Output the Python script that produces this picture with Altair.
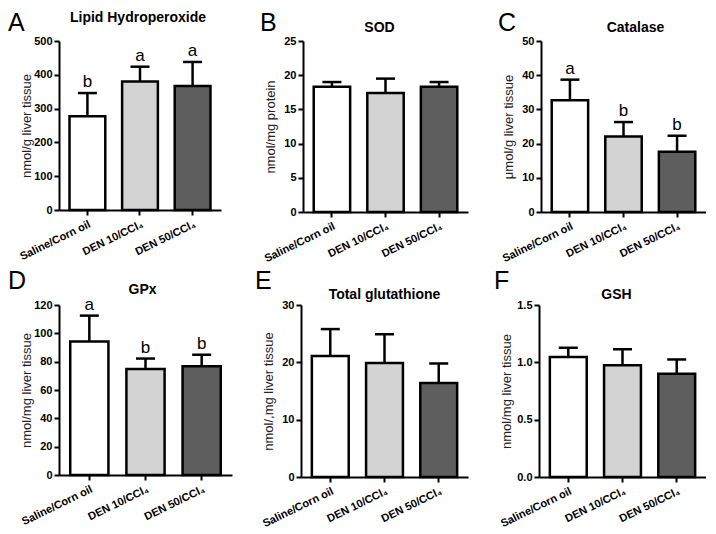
import altair as alt
import pandas as pd

groups = ["Saline/Corn oil", "DEN 10/CCl\u2084", "DEN 50/CCl\u2084"]
fills = ["#ffffff", "#d3d3d3", "#5e5e5e"]

# A Lipid hydroperoxide
lipid_mean = [277, 380, 367]
lipid_sd = [69, 44, 71]
lipid_sig = ["b", "a", "a"]
# B SOD
sod_mean = [18.3, 17.4, 18.3]
sod_sd = [0.7, 2.1, 0.7]
sod_sig = ["", "", ""]
# C Catalase
cat_mean = [32.7, 22.1, 17.6]
cat_sd = [6.0, 4.2, 4.7]
cat_sig = ["a", "b", "b"]
# D GPx
gpx_mean = [94.2, 74.8, 76.8]
gpx_sd = [18.3, 7.4, 8.1]
gpx_sig = ["a", "b", "b"]
# E Total glutathione
tg_mean = [21.1, 19.9, 16.4]
tg_sd = [4.7, 5.0, 3.4]
tg_sig = ["", "", ""]
# F GSH
gsh_mean = [1.047, 0.974, 0.900]
gsh_sd = [0.080, 0.140, 0.125]
gsh_sig = ["", "", ""]

FONT = "Liberation Sans"


def panel(letter, title, means, sds, sig, ymax, yticks, ytitle, fmt,
          width, height, letter_x, letter_y, title_y, title_dx):
    df = pd.DataFrame({"group": groups, "mean": means, "sd": sds, "sig": sig})
    base = alt.Chart(df).transform_calculate(top="datum.mean + datum.sd").encode(
        x=alt.X(
            "group:N",
            sort=groups,
            scale=alt.Scale(domain=groups, paddingInner=0.32, paddingOuter=0.2),
            axis=alt.Axis(
                title=None,
                labelAngle=-26,
                labelFontSize=11,
                labelFontWeight="bold",
                labelPadding=3,
                labelFont=FONT,
            ),
        )
    )
    yscale = alt.Scale(domain=[0, ymax], nice=False, zero=True)
    yaxis = alt.Axis(
        values=yticks,
        tickCount=len(yticks),
        format=fmt,
        title=ytitle,
        titleFontSize=13,
        titleFontWeight="normal",
        titleFont=FONT,
        titleX=-26,
        labelFontSize=11,
        labelFontWeight="bold",
        labelFont=FONT,
        labelPadding=2,
        labelOverlap=False,
    )
    bars = base.mark_bar(stroke="black", strokeWidth=2.5).encode(
        y=alt.Y("mean:Q", scale=yscale, axis=yaxis),
        fill=alt.Fill("group:N", scale=alt.Scale(domain=groups, range=fills), legend=None),
    )
    rule = base.mark_rule(strokeWidth=2.5, color="black").encode(
        y=alt.Y("mean:Q", scale=yscale, axis=yaxis), y2="top:Q"
    )
    cap = base.mark_tick(size=19, thickness=2.5, color="black", opacity=1).encode(
        y=alt.Y("top:Q", scale=yscale, axis=yaxis)
    )
    layers = [bars, rule, cap]
    if any(s for s in sig):
        txt = base.mark_text(fontSize=17, baseline="bottom", dy=-2, font=FONT, color="black").encode(
            y=alt.Y("top:Q", scale=yscale, axis=yaxis), text="sig:N"
        )
        layers.append(txt)
    lab_df = pd.DataFrame({"letter": [letter], "title": [title]})
    lab = alt.Chart(lab_df).mark_text(
        fontSize=25, align="left", baseline="top", font=FONT, color="black"
    ).encode(x=alt.value(letter_x), y=alt.value(letter_y), text="letter:N")
    ttl = alt.Chart(lab_df).mark_text(
        fontSize=14, fontWeight="bold", align="center", baseline="alphabetic",
        font=FONT, color="black"
    ).encode(x=alt.value(width / 2 + title_dx), y=alt.value(title_y), text="title:N")
    layers += [lab, ttl]
    return alt.layer(*layers).properties(width=width, height=height)


pA = panel("A", "Lipid Hydroperoxide", lipid_mean, lipid_sd, lipid_sig, 500,
           [0, 100, 200, 300, 400, 500], "nmol/g  liver tissue", "d",
           162, 169, -51, -30, -19, -2)
pB = panel("B", "SOD", sod_mean, sod_sd, sod_sig, 25,
           [0, 5, 10, 15, 20, 25], "nmol/mg  protein", "d",
           165, 171, -43, -30, -9, -6)
pC = panel("C", "Catalase", cat_mean, cat_sd, cat_sig, 50,
           [0, 10, 20, 30, 40, 50], "\u03bcmol/g  liver tissue", "d",
           165, 171, -43, -30, -9, 12)
pD = panel("D", "GPx", gpx_mean, gpx_sd, gpx_sig, 120,
           [0, 20, 40, 60, 80, 100, 120], "nmol/mg liver tissue", "d",
           173, 170, -51, -36, -11, -3)
pE = panel("E", "Total glutathione", tg_mean, tg_sd, tg_sig, 30,
           [0, 10, 20, 30], "nmol/,mg liver tissue", "d",
           167, 172, -46, -36, -6, 0)
pF = panel("F", "GSH", gsh_mean, gsh_sd, gsh_sig, 1.5,
           [0, 0.5, 1.0, 1.5], "nmol/mg liver tissue", ".1f",
           167, 172, -45, -36, -6, -6)

row1 = alt.hconcat(pA, alt.hconcat(pB, pC, spacing=30), spacing=39)
row2 = alt.hconcat(pD, alt.hconcat(pE, pF, spacing=26), spacing=23)

chart = alt.vconcat(
    row1, row2, spacing=5,
    padding={"top": 3, "left": 0, "right": 0, "bottom": 0},
).configure_view(
    stroke=None
).configure_axis(
    domainColor="black",
    domainWidth=2,
    tickColor="black",
    tickWidth=2,
    tickSize=5,
    labelColor="black",
    titleColor="#222222",
    grid=False,
)

chart.save("out.html", embed_options={"renderer": "svg", "actions": False})
